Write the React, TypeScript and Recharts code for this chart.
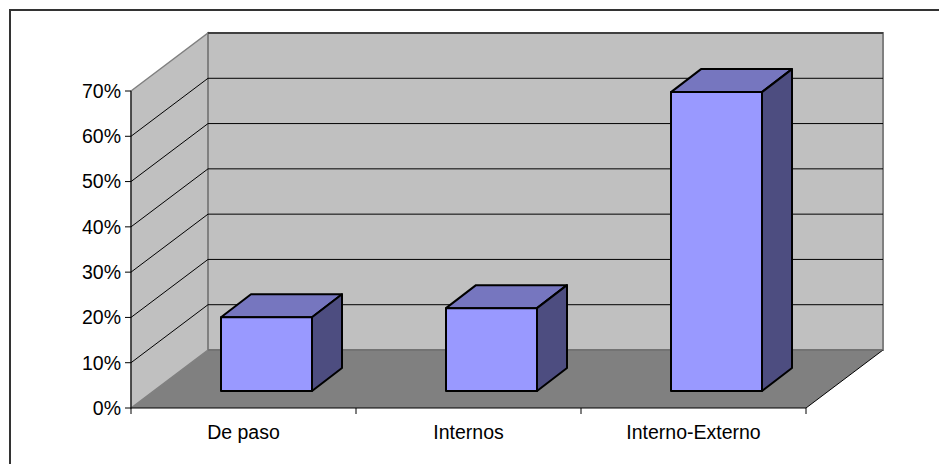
import {
  Bar,
  BarChart,
  CartesianGrid,
  ReferenceArea,
  XAxis,
  YAxis,
} from 'recharts'

const categories = ['De paso', 'Internos', 'Interno-Externo']
const shares = [16.3, 18.3, 66]
const yTicks = [0, 10, 20, 30, 40, 50, 60, 70]

const rows = categories.map((name, i) => ({ name, share: shares[i] }))

// Excel-style fake 3D: the back wall sits up and to the right of the axis plane.
const WALL_DX = 77
const WALL_DY = -58
// bars stand halfway into the floor, with their own shallower depth
const BAR_DX = 23
const BAR_DY = -17
const BAR_DEPTH_X = 30
const BAR_DEPTH_Y = -23

const pts = (list: number[][]) => list.map((p) => p.join(',')).join(' ')

function Walls({ x, y, width, height }: any) {
  const bottom = y + height
  const right = x + width
  return (
    <g>
      <polygon
        points={pts([
          [x, y],
          [x + WALL_DX, y + WALL_DY],
          [x + WALL_DX, bottom + WALL_DY],
          [x, bottom],
        ])}
        fill="#c0c0c0"
        stroke="#808080"
        strokeWidth={1.5}
      />
      <rect
        x={x + WALL_DX}
        y={y + WALL_DY}
        width={width}
        height={height}
        fill="#c0c0c0"
        stroke="#808080"
        strokeWidth={2}
      />
      <polygon
        points={pts([
          [x, bottom],
          [x + WALL_DX, bottom + WALL_DY],
          [right + WALL_DX, bottom + WALL_DY],
          [right, bottom],
        ])}
        fill="#808080"
      />
      <line
        x1={right}
        y1={bottom}
        x2={right + WALL_DX}
        y2={bottom + WALL_DY}
        stroke="#000"
      />
    </g>
  )
}

// one grid value = a diagonal on the side wall plus a line across the back wall
function GridLine({ x1, x2, y1, index }: any) {
  // lowest and highest lines are the wall edges, which stay grey
  const edge = index === 0 || index === yTicks.length - 1
  if (y1 === undefined) return <g />
  return (
    <g>
      {!edge && (
        <line
          x1={x1}
          y1={y1}
          x2={x1 + WALL_DX}
          y2={y1 + WALL_DY}
          stroke="#000"
        />
      )}
      <line
        x1={x1 + WALL_DX}
        y1={y1 + WALL_DY}
        x2={x2 + WALL_DX}
        y2={y1 + WALL_DY}
        stroke={y1 + WALL_DY > 345 ? '#666' : '#000'}
      />
    </g>
  )
}

function Box3D({ x, y, width, height }: any) {
  const left = x + BAR_DX
  const right = left + width
  const top = y + BAR_DY
  const bottom = top + height
  return (
    <g stroke="#000" strokeWidth={2} strokeLinejoin="round">
      <polygon
        points={pts([
          [left, top],
          [left + BAR_DEPTH_X, top + BAR_DEPTH_Y],
          [right + BAR_DEPTH_X, top + BAR_DEPTH_Y],
          [right, top],
        ])}
        fill="#7676bf"
      />
      <polygon
        points={pts([
          [right, top],
          [right + BAR_DEPTH_X, top + BAR_DEPTH_Y],
          [right + BAR_DEPTH_X, bottom + BAR_DEPTH_Y],
          [right, bottom],
        ])}
        fill="#4d4d80"
      />
      <rect x={left} y={top} width={width} height={height} fill="#9999ff" />
    </g>
  )
}

const tickStyle = { fontFamily: 'Liberation Sans', fontSize: 19.5, fill: '#000' }

// ticks sit between the categories, not under them
function CategoryTick({ x, y, width, index, payload }: any) {
  const half = width / categories.length / 2
  const axisY = y - 14
  return (
    <g>
      <line x1={x - half} y1={axisY} x2={x - half} y2={axisY + 6} stroke="#000" />
      {index === categories.length - 1 && (
        <line x1={x + half} y1={axisY} x2={x + half} y2={axisY + 6} stroke="#000" />
      )}
      <text x={x} y={axisY + 31} textAnchor="middle" {...tickStyle}>
        {payload.value}
      </text>
    </g>
  )
}

export default function App() {
  return (
    <div
      style={{
        position: 'absolute',
        left: 0,
        top: 0,
        width: 939,
        height: 464,
        overflow: 'hidden',
        background: '#fff',
      }}
    >
      {/* only the top and left of the outer frame fall inside the picture */}
      <div
        style={{
          position: 'absolute',
          left: 9,
          top: 9,
          width: 930,
          height: 455,
          borderTop: '2px solid #333',
          borderLeft: '2px solid #333',
        }}
      />
      <BarChart
        width={939}
        height={464}
        data={rows}
        barSize={91}
        margin={{ top: 91, right: 133, bottom: 0, left: 0 }}
        style={{ position: 'absolute', left: 0, top: 0 }}
      >
        <ReferenceArea
          y1={0}
          y2={70}
          ifOverflow="visible"
          shape={Walls}
          zIndex={-200}
        />
        <CartesianGrid vertical={false} horizontal={GridLine} />
        <XAxis
          dataKey="name"
          height={56}
          interval={0}
          stroke="#000"
          tickLine={false}
          tickSize={6}
          tickMargin={8}
          tick={CategoryTick}
        />
        <YAxis
          width={131}
          domain={[0, 70]}
          ticks={yTicks}
          tickFormatter={(v: number) => `${v}%`}
          stroke="#000"
          tickSize={6}
          tickMargin={4}
          tick={tickStyle}
        />
        <Bar dataKey="share" shape={Box3D} isAnimationActive={false} />
      </BarChart>
    </div>
  )
}
